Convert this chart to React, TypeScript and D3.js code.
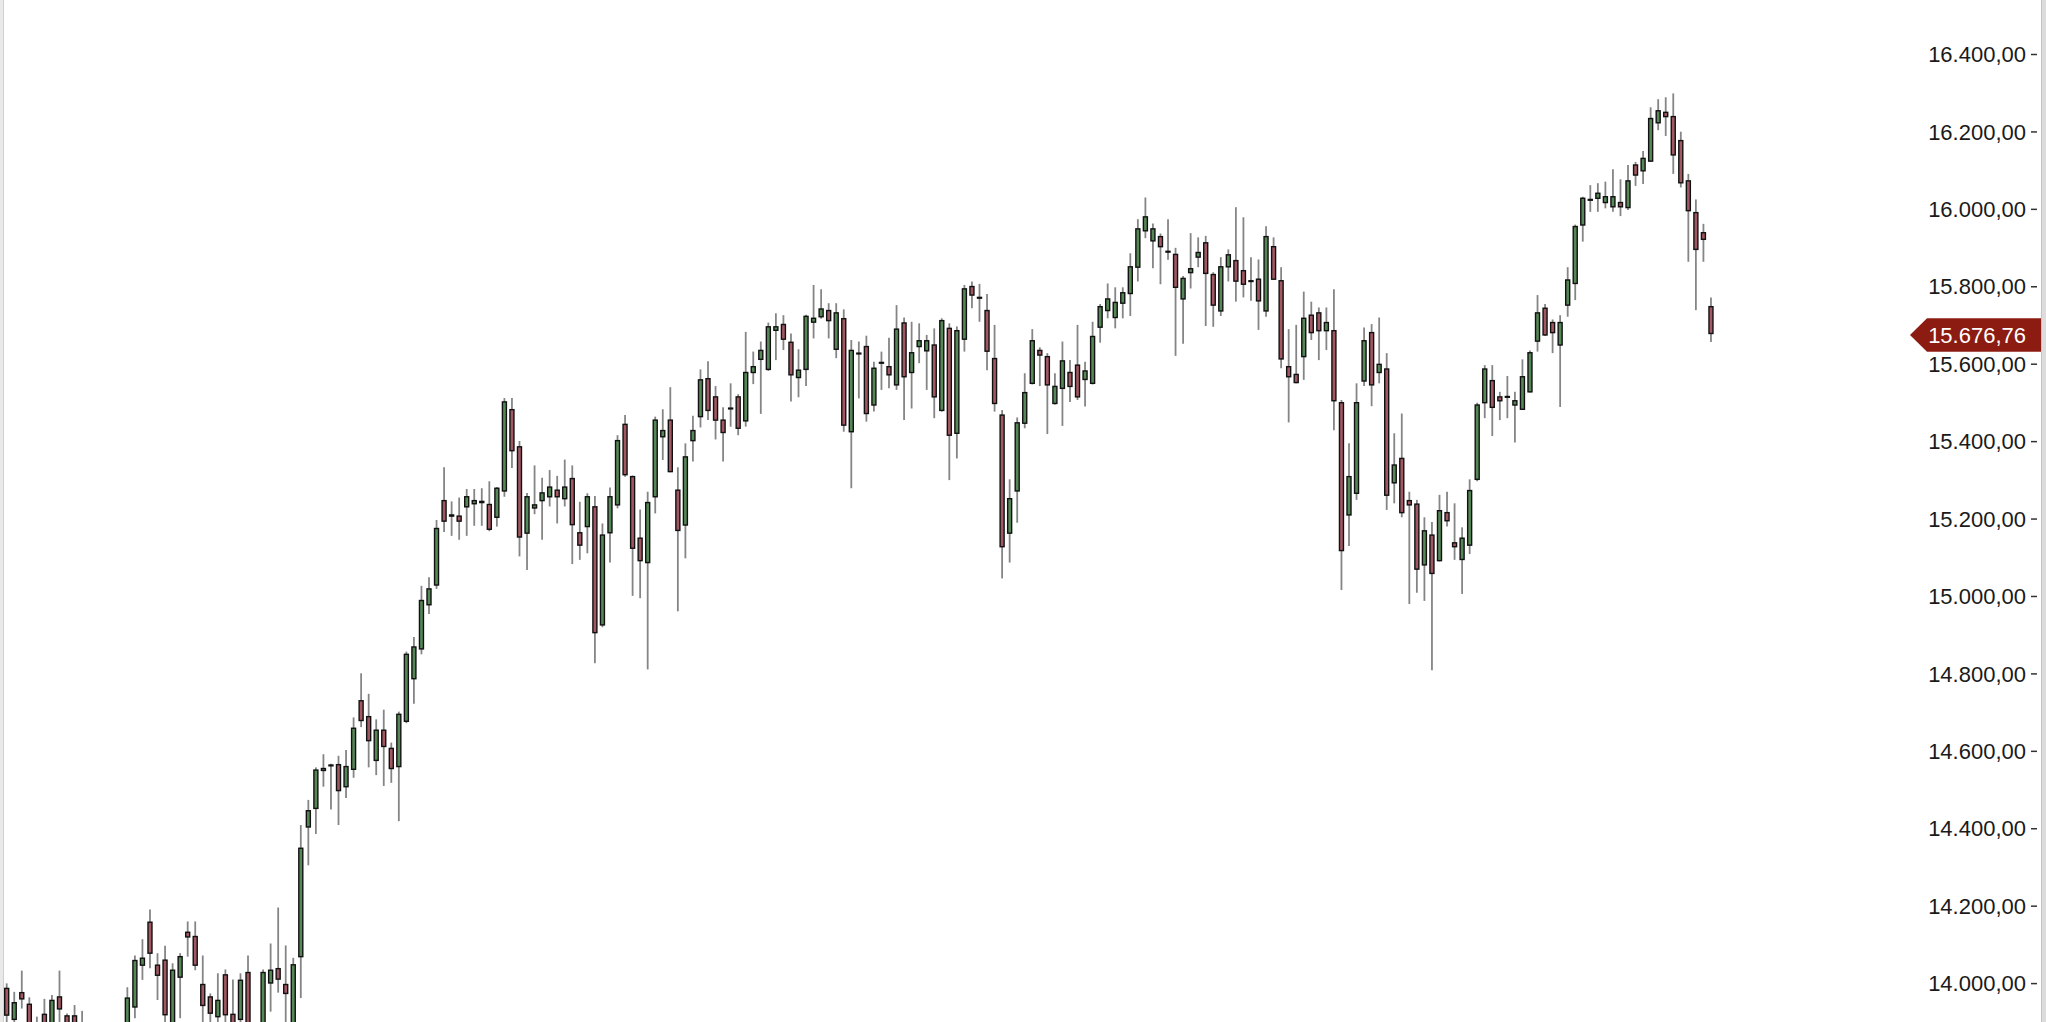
import React from "react";
import * as d3 from "d3";

const opens = [13985,13905,13974,13944,13890,13918,13880,13963,13914,13914,13890,13860,13820,13780,13800,13760,13830,13937,14045,14156,14045,14058,13880,14014,14130,14119,13995,13963,13912,14020,13918,13905,14026,13860,13880,13999,14036,13995,13880,14067,14402,14450,14548,14560,14563,14506,14551,14728,14687,14574,14652,14605,14558,14675,14785,14862,14976,15027,15245,15208,15205,15229,15237,15240,15235,15202,15270,15480,15384,15161,15226,15245,15255,15272,15250,15302,15162,15178,15229,14924,15162,15234,15442,15307,15148,15085,15255,15410,15453,15272,15182,15400,15462,15560,15513,15453,15482,15513,15451,15576,15610,15584,15685,15700,15654,15563,15584,15706,15720,15736,15636,15715,15423,15624,15643,15492,15600,15591,15544,15704,15576,15643,15632,15647,15478,15690,15419,15662,15798,15770,15736,15612,15466,15161,15270,15445,15548,15633,15617,15496,15535,15576,15595,15558,15548,15693,15736,15718,15755,15780,15848,15942,15916,15927,15889,15881,15766,15834,15874,15911,15829,15735,15849,15865,15839,15813,15817,15735,15901,15813,15591,15571,15617,15724,15730,15684,15684,15498,15208,15264,15554,15679,15576,15585,15291,15354,15245,15236,15079,15156,15090,15214,15136,15093,15130,15300,15498,15555,15513,15512,15492,15481,15526,15657,15742,15705,15647,15750,15806,15957,16021,16026,16015,16004,16015,16002,16112,16097,16122,16221,16248,16237,16175,16071,15989,15937,15746];
const highs = [13998,13976,14031,13962,13912,13958,13968,14031,13920,13942,13927,13880,13850,13840,13830,13870,13988,14070,14112,14189,14076,14095,14050,14076,14158,14158,14070,13972,14024,14034,14008,14024,14070,13885,14034,14101,14194,14096,14064,14407,14472,14556,14590,14565,14586,14601,14685,14799,14746,14680,14705,14620,14700,14855,14893,15025,15047,15195,15331,15243,15253,15275,15275,15277,15295,15280,15510,15510,15399,15265,15336,15304,15324,15309,15351,15336,15242,15264,15257,15186,15279,15414,15466,15310,15222,15268,15462,15481,15538,15331,15393,15464,15584,15605,15541,15486,15548,15520,15681,15630,15656,15705,15729,15724,15677,15636,15725,15802,15791,15755,15755,15739,15660,15656,15671,15604,15630,15666,15750,15718,15707,15703,15673,15690,15716,15703,15695,15802,15811,15805,15779,15699,15479,15300,15460,15574,15688,15641,15626,15574,15656,15608,15699,15604,15707,15753,15806,15796,15796,15884,15972,16028,15961,15935,15972,15898,15825,15936,15925,15929,15835,15874,15894,16003,15977,15874,15868,15954,15925,15848,15688,15699,15785,15759,15744,15744,15791,15505,15393,15548,15692,15701,15718,15626,15419,15470,15268,15247,15202,15190,15260,15268,15238,15176,15300,15498,15595,15595,15526,15567,15526,15610,15633,15776,15753,15713,15724,15848,15958,16030,16060,16065,16069,16101,16075,16112,16120,16148,16261,16282,16287,16297,16198,16089,16023,15960,15770];
const lows = [13880,13890,13933,13860,13850,13860,13860,13895,13860,13860,13850,13790,13750,13740,13720,13740,13810,13908,14007,14037,13955,13890,13860,13908,14067,14032,13895,13890,13895,13895,13860,13895,13870,13800,13860,13925,13974,13890,13860,13960,14303,14384,14506,14447,14407,14477,14529,14660,14556,14536,14508,14516,14417,14670,14720,14848,14952,15017,15164,15154,15144,15154,15180,15180,15166,15178,15255,15329,15101,15066,15210,15144,15230,15186,15230,15081,15092,15109,14825,14918,15085,15225,15307,14999,14993,14809,15212,15350,15318,14959,15096,15346,15434,15453,15403,15346,15436,15414,15436,15546,15469,15580,15608,15634,15501,15512,15541,15664,15715,15664,15613,15423,15277,15509,15449,15475,15531,15535,15531,15453,15483,15600,15531,15458,15475,15298,15354,15630,15742,15707,15582,15475,15044,15085,15188,15432,15545,15541,15417,15493,15438,15500,15505,15488,15545,15653,15716,15690,15716,15722,15811,15923,15845,15804,15867,15619,15650,15793,15848,15696,15694,15722,15811,15759,15770,15761,15686,15720,15815,15587,15447,15548,15557,15660,15608,15634,15427,15014,15128,15247,15541,15489,15548,15221,15238,15202,14978,15007,14986,14807,15088,15178,15092,15004,15107,15295,15458,15412,15453,15458,15395,15479,15524,15630,15670,15626,15487,15720,15763,15914,15991,15991,16000,15991,15980,15996,16058,16063,16120,16202,16187,16089,16054,15862,15737,15862,15655];
const closes = [13916,13948,13958,13880,13870,13880,13954,13932,13880,13885,13870,13820,13780,13800,13760,13830,13960,14057,14063,14076,14019,13917,14032,14067,14118,14045,13941,13921,13954,13917,13880,14006,13890,13830,14026,14032,14009,13972,14046,14347,14444,14549,14553,14562,14496,14558,14657,14677,14625,14652,14610,14553,14693,14848,14867,14987,15017,15173,15192,15205,15192,15255,15245,15243,15171,15277,15500,15374,15151,15255,15234,15265,15280,15255,15280,15183,15130,15255,14904,15156,15255,15400,15312,15122,15090,15240,15453,15426,15320,15168,15358,15426,15557,15478,15453,15421,15484,15432,15576,15591,15633,15694,15694,15662,15570,15582,15721,15716,15740,15710,15730,15440,15633,15626,15470,15587,15602,15570,15688,15565,15627,15658,15658,15513,15710,15414,15684,15792,15776,15768,15631,15496,15126,15250,15446,15524,15658,15621,15544,15540,15606,15540,15513,15580,15669,15746,15766,15757,15782,15849,15947,15978,15947,15901,15887,15796,15819,15844,15886,15832,15750,15849,15880,15812,15804,15811,15761,15927,15817,15611,15565,15550,15716,15679,15684,15705,15503,15116,15307,15498,15658,15544,15597,15259,15337,15214,15234,15068,15167,15057,15219,15193,15126,15148,15271,15492,15585,15486,15503,15514,15503,15565,15627,15730,15673,15679,15705,15815,15953,16026,16023,16039,16030,16030,16004,16071,16086,16129,16232,16252,16237,16138,16066,15994,15894,15920,15676.76];
const yTicks = [14000,14200,14400,14600,14800,15000,15200,15400,15600,15800,16000,16200,16400];
const lastPrice = 15676.76;

const W = 2046;
const H = 1022;

const locale = d3.formatLocale({ decimal: ",", thousands: ".", grouping: [3], currency: ["", ""] });
const fmt = locale.format(",.2f");

export default function App() {
  const n = opens.length;
  const x = d3.scaleBand<number>().domain(d3.range(n)).range([2.93, 2.93 + n * 7.541]).padding(0);
  const y = d3.scaleLinear().domain([14000, 16400]).range([982.6, 53.5]);
  const bw = 4;
  const tagY = y(lastPrice) + 1.5;
  return (
    <svg width={W} height={H} style={{ position: "fixed", left: 0, top: 0, background: "#fff" }}
      fontFamily="'Liberation Sans', Arial, sans-serif">
      <rect x={0} y={0} width={W} height={H} fill="#fff" />
      <rect x={0} y={0} width={4} height={H} fill="#e9e9e9" />
      <line x1={3.5} x2={3.5} y1={0} y2={H} stroke="#cfcfcf" strokeWidth={1} />
      <rect x={2041} y={0} width={5} height={H} fill="#dcdcdc" />
      <line x1={2041.5} x2={2041.5} y1={0} y2={H} stroke="#c4c4c4" strokeWidth={1} />
      <g>
        {d3.range(n).map((i) => {
          const cx = (x(i) as number) + x.bandwidth() / 2;
          const o = opens[i], c = closes[i];
          const up = c >= o;
          const top = y(Math.max(o, c));
          const bot = y(Math.min(o, c));
          return (
            <g key={i}>
              <line x1={cx} x2={cx} y1={y(highs[i])} y2={y(lows[i])} stroke="#858585" strokeWidth={1.8} />
              <rect x={cx - bw / 2} y={top} width={bw} height={Math.max(bot - top, 0.6)}
                fill={up ? "#568756" : "#a25862"} stroke="#111" strokeWidth={1.4} />
            </g>
          );
        })}
      </g>
      <g>
        {yTicks.map((t) => (
          <g key={t}>
            <text x={2026} y={y(t) + 1} dy="0.35em" textAnchor="end" fontSize={22} fill="#1a1a1a">{fmt(t)}</text>
            <line x1={2031} x2={2037} y1={y(t) + 1} y2={y(t) + 1} stroke="#333" strokeWidth={1.5} />
          </g>
        ))}
      </g>
      <g>
        <path d={`M1910,${tagY} L1927,${tagY - 16.7} L2041,${tagY - 16.7} L2041,${tagY + 16.7} L1927,${tagY + 16.7} Z`} fill="#8c1b12" />
        <text x={2026} y={tagY} dy="0.35em" textAnchor="end" fontSize={22} fill="#fff">{fmt(lastPrice)}</text>
      </g>
    </svg>
  );
}
